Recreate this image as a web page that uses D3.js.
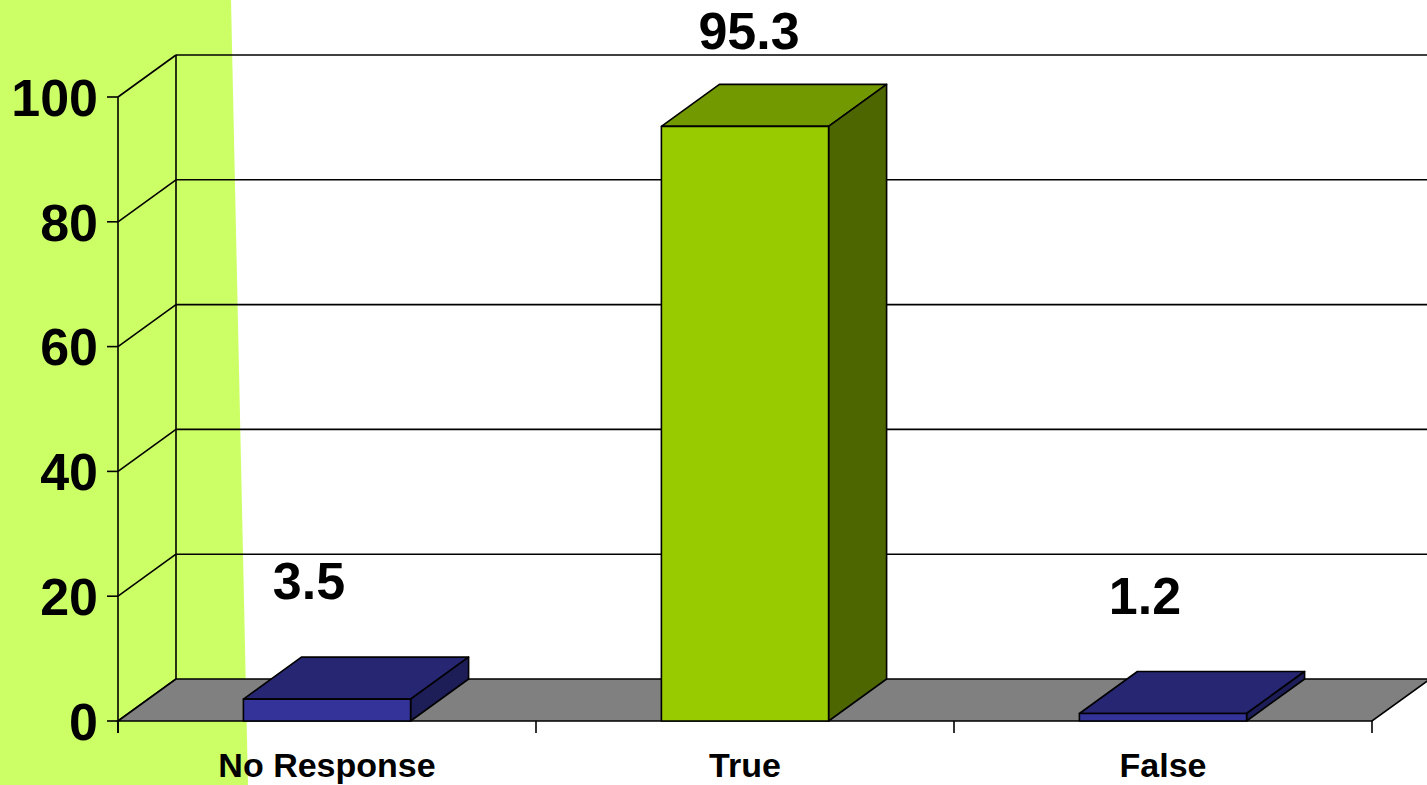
<!DOCTYPE html>
<html>
<head>
<meta charset="utf-8">
<script src="https://cdn.jsdelivr.net/npm/d3@7"></script>
<style>
  html, body { margin: 0; padding: 0; background: #ffffff; }
  svg { display: block; }
  text { font-family: "Liberation Sans", Arial, sans-serif; font-weight: bold; fill: #000; }
</style>
</head>
<body>
<svg id="chart" width="1427" height="785"></svg>
<script>
// Survey answer shares (percent)
const categories = ["No Response", "True", "False"];
const values = [3.5, 95.3, 1.2];
const yTicks = [0, 20, 40, 60, 80, 100];

// Face colours per bar: front, top, side
const palette = {
  "No Response": ["#333399", "#262673", "#1d1d57"],
  "True": ["#99cc00", "#739900", "#4d6600"],
  "False": ["#333399", "#262673", "#1d1d57"]
};

const W = 1427, H = 785;
const svg = d3.select("#chart");

// Oblique projection offset of the back plane
const depth = { dx: 58, dy: -42 };

const x = d3.scaleBand().domain(categories).range([118, 1372]).padding(0);
const y = d3.scaleLinear().domain([0, 100]).range([721, 97]);
const barW = x.bandwidth() * 0.4;

// Green panel on the left
svg.append("polygon")
  .attr("points", [[0, 0], [231, 0], [248, H], [0, H]].map(p => p.join(",")).join(" "))
  .attr("fill", "#ccff66");

const lineStyle = sel => sel.attr("stroke", "#000").attr("stroke-width", 1.6).attr("fill", "none");

const x0 = x.range()[0], x1 = x.range()[1];

// Back wall gridlines and side-wall diagonals
yTicks.forEach(t => {
  const yf = y(t), yb = y(t) + depth.dy;
  if (t > 0) {
    svg.append("line").attr("x1", x0 + depth.dx).attr("x2", W + 5)
      .attr("y1", yb).attr("y2", yb).call(lineStyle);
  }
  svg.append("line").attr("x1", x0).attr("y1", yf)
    .attr("x2", x0 + depth.dx).attr("y2", yb).call(lineStyle);
  // tick mark on the front axis
  svg.append("line").attr("x1", x0 - 11).attr("x2", x0)
    .attr("y1", yf).attr("y2", yf).call(lineStyle);
});

// Vertical edges of the walls
svg.append("line").attr("x1", x0 + depth.dx).attr("x2", x0 + depth.dx)
  .attr("y1", y(100) + depth.dy).attr("y2", y(0) + depth.dy).call(lineStyle);
svg.append("line").attr("x1", x0).attr("x2", x0)
  .attr("y1", y(100)).attr("y2", y(0) + 12).call(lineStyle);

// Floor
svg.append("polygon")
  .attr("points", [
    [x0, y(0)], [x1, y(0)], [x1 + depth.dx, y(0) + depth.dy], [x0 + depth.dx, y(0) + depth.dy]
  ].map(p => p.join(",")).join(" "))
  .attr("fill", "#808080").attr("stroke", "#000").attr("stroke-width", 1.6);

// Category ticks below the floor
const tickXs = categories.map(c => x(c)).concat([x1]);
tickXs.forEach(tx => {
  svg.append("line").attr("x1", tx).attr("x2", tx)
    .attr("y1", y(0)).attr("y2", y(0) + 12).call(lineStyle);
});

// 3D bars
const labelSize = 52;
const minBaseline = 49; // keeps tall-bar labels inside the top edge
const bars = svg.append("g");
categories.forEach((c, i) => {
  const v = values[i];
  const left = x(c) + (x.bandwidth() - barW) / 2;
  const right = left + barW;
  const top = y(v), base = y(0);
  const [front, topC, side] = palette[c];
  const pts = a => a.map(p => p.join(",")).join(" ");
  const g = bars.append("g");
  g.append("polygon")
    .attr("points", pts([[left, top], [left + depth.dx, top + depth.dy], [right + depth.dx, top + depth.dy], [right, top]]))
    .attr("fill", topC);
  g.append("polygon")
    .attr("points", pts([[right, top], [right + depth.dx, top + depth.dy], [right + depth.dx, base + depth.dy], [right, base]]))
    .attr("fill", side);
  g.append("rect")
    .attr("x", left).attr("y", top).attr("width", barW).attr("height", base - top)
    .attr("fill", front);
  g.selectAll("polygon, rect").attr("stroke", "#000").attr("stroke-width", 1.6)
    .attr("stroke-linejoin", "round");

  // Value label, held below the top edge when the bar is tall
  const wanted = top - 100;
  const clamped = wanted < minBaseline;
  svg.append("text")
    .attr("x", left + barW / 2 + (clamped ? 4 : -18))
    .attr("y", clamped ? minBaseline : wanted)
    .attr("text-anchor", "middle")
    .attr("font-size", labelSize)
    .text(d3.format(".1f")(v));

  // Category label
  svg.append("text")
    .attr("x", x(c) + x.bandwidth() / 2)
    .attr("y", 777)
    .attr("text-anchor", "middle")
    .attr("font-size", 34)
    .text(c);
});

// Y tick labels
yTicks.forEach(t => {
  svg.append("text")
    .attr("x", 98)
    .attr("y", y(t))
    .attr("dy", "0.36em")
    .attr("text-anchor", "end")
    .attr("font-size", 52)
    .text(t);
});
</script>
</body>
</html>
